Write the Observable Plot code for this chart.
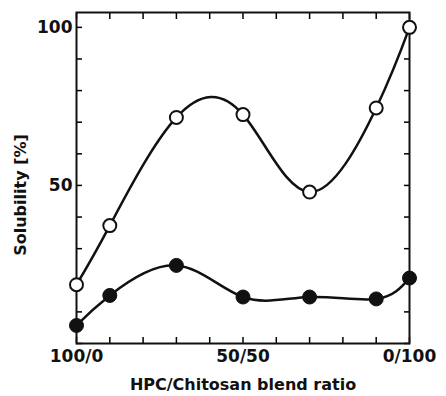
<!DOCTYPE html>
<html>
<head>
<meta charset="utf-8">
<script src="https://cdn.jsdelivr.net/npm/d3@7"></script>
<script src="https://cdn.jsdelivr.net/npm/@observablehq/plot@0.6"></script>
<style>
  html, body { margin: 0; padding: 0; background: #fff; }
  svg { font-family: "DejaVu Sans", sans-serif; }
</style>
</head>
<body>
<div id="chart"></div>
<script>
// chitosan content (%) of the HPC/Chitosan blend
const chitosan = [0, 10, 30, 50, 70, 90, 100];
const openSeries = [18.6, 37.3, 71.5, 72.4, 47.9, 74.5, 100];
const filledSeries = [5.7, 15.2, 24.7, 14.7, 14.7, 14.1, 20.7];
const xTicks = [0, 10, 20, 30, 40, 50, 60, 70, 80, 90, 100];
const xLabelTicks = [0, 50, 100];
const xTickLabels = ["100/0", "50/50", "0/100"];
const yTicks = [0, 10, 20, 30, 40, 50, 60, 70, 80, 90, 100];
const yLabelTicks = [50, 100];
const yTickLabels = ["50", "100"];

const openData = chitosan.map((x, i) => ({x, y: openSeries[i]}));
const filledData = chitosan.map((x, i) => ({x, y: filledSeries[i]}));

const chart = Plot.plot({
  width: 446,
  height: 396,
  marginLeft: 76,
  marginRight: 37,
  marginTop: 12,
  marginBottom: 53,
  x: {domain: [0, 100], axis: null},
  y: {domain: [0, 104.7], axis: null},
  marks: [
    Plot.axisX(xTicks, {anchor: "bottom", tickSize: -6, tickFormat: () => "", label: null, strokeWidth: 1.5}),
    Plot.axisX(xTicks, {anchor: "top", tickSize: -6, tickFormat: () => "", label: null, strokeWidth: 1.5}),
    Plot.axisY(yTicks, {anchor: "left", tickSize: -6, tickFormat: () => "", label: null, strokeWidth: 1.5}),
    Plot.axisY(yTicks, {anchor: "right", tickSize: -6, tickFormat: () => "", label: null, strokeWidth: 1.5}),
    Plot.axisX(xLabelTicks, {anchor: "bottom", tickSize: 0, tickPadding: 6, label: null,
      tickFormat: d => xTickLabels[xLabelTicks.indexOf(d)], fontSize: 17, fontWeight: "bold", fill: "#111"}),
    Plot.axisY(yLabelTicks, {anchor: "left", tickSize: 0, tickPadding: 4, label: null,
      tickFormat: d => yTickLabels[yLabelTicks.indexOf(d)], fontSize: 17, fontWeight: "bold", fill: "#111"}),
    Plot.frame({stroke: "#111", strokeWidth: 2}),
    Plot.line(openData, {x: "x", y: "y", curve: "natural", stroke: "#111", strokeWidth: 2.5}),
    Plot.line(filledData, {x: "x", y: "y", curve: "natural", stroke: "#111", strokeWidth: 2.5}),
    Plot.dot(openData, {x: "x", y: "y", r: 6.5, fill: "white", stroke: "#111", strokeWidth: 2}),
    Plot.dot(filledData, {x: "x", y: "y", r: 7, fill: "#111", stroke: "#111", strokeWidth: 1}),
    Plot.text(["Solubility [%]"], {frameAnchor: "left", textAnchor: "middle", lineAnchor: "middle", dx: -56, dy: 17, rotate: -90, fontSize: 16, fontWeight: "bold", fill: "#111"}),
    Plot.text(["HPC/Chitosan blend ratio"], {frameAnchor: "bottom", textAnchor: "middle", dy: 46, fontSize: 16, fontWeight: "bold", fill: "#111"})
  ]
});
document.getElementById("chart").appendChild(chart);
</script>
</body>
</html>
